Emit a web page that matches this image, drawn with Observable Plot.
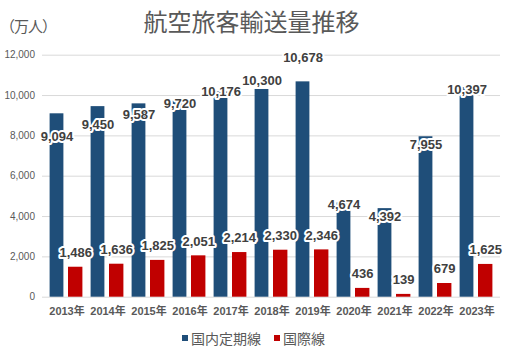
<!DOCTYPE html>
<html><head><meta charset="utf-8">
<script src="https://cdn.jsdelivr.net/npm/d3@7"></script>
<script src="https://cdn.jsdelivr.net/npm/@observablehq/plot@0.6"></script>
<style>
html,body{margin:0;padding:0;background:#fff;}
#wrap{position:relative;width:507px;height:360px;overflow:hidden;font-family:"Liberation Sans","Noto Sans CJK JP",sans-serif;}
#chart{position:absolute;left:0;top:0;}
#title{position:absolute;left:-2px;width:507px;top:9.4px;text-align:center;font-size:24px;line-height:24px;font-family:"Noto Sans CJK JP",sans-serif;color:#595959;white-space:nowrap;}
#unit{position:absolute;left:0;top:18px;font-size:15px;line-height:15px;letter-spacing:-1px;font-family:"Noto Sans CJK JP",sans-serif;color:#595959;white-space:nowrap;}
#legend{position:absolute;left:0;width:507px;top:329px;height:18px;display:flex;justify-content:center;align-items:center;font-size:14px;line-height:18px;font-family:"Noto Sans CJK JP",sans-serif;color:#595959;}
#legend .sw{display:inline-block;width:6px;height:6px;margin-right:3px;}
#legend .item{display:flex;align-items:center;}
#legend .item + .item{margin-left:13px;}
</style>
</head><body>
<div id="wrap">
  <div id="chart"></div>
  <div id="unit"></div>
  <div id="title"></div>
  <div id="legend"></div>
</div>
<script>
const titleText = "航空旅客輸送量推移";
const unitText = "（万人）";
const years = ["2013年","2014年","2015年","2016年","2017年","2018年","2019年","2020年","2021年","2022年","2023年"];
const domestic = [9094, 9450, 9587, 9720, 10176, 10300, 10678, 4674, 4392, 7955, 10397];
const international = [1486, 1636, 1825, 2051, 2214, 2330, 2346, 436, 139, 679, 1625];
const seriesNames = ["国内定期線", "国際線"];
const yTicks = [0, 2000, 4000, 6000, 8000, 10000, 12000];

// label placement (pixel offsets from bar top, as in the original)
const domLabelShift = [23.4, 18.6, 11.3, 2.6, 0.2, -9, -24, 1.6, 8, 7.7, 2.3];
const intlLabelShift = -14.4;

const colors = ["#1F4E79", "#C00000"];
const fmt = d3.format(",");

const rows = years.map((y, i) => ({year: y, dom: domestic[i], intl: international[i]}));

const labelStyle = {fontSize: 13, fontWeight: "bold", fill: "#404040", stroke: "white", strokeWidth: 4, strokeLinejoin: "round"};

const chart = Plot.plot({
  width: 507, height: 330,
  marginLeft: 42, marginRight: 7, marginTop: 54.7, marginBottom: 33.3,
  x: {type: "band", domain: years, padding: 0, axis: null},
  y: {domain: [0, 12000], axis: null},
  style: {fontFamily: '"Liberation Sans","Noto Sans CJK JP",sans-serif', background: "transparent", overflow: "visible"},
  marks: [
    Plot.ruleY(yTicks, {stroke: "#D9D9D9", strokeWidth: 1}),
    Plot.barY(rows, {x: "year", y: "dom", fill: colors[0], insetLeft: 3.6, insetRight: 23.6}),
    Plot.barY(rows, {x: "year", y: "intl", fill: colors[1], insetLeft: 22, insetRight: 4.6}),
    ...rows.map((r, i) => Plot.text([r], {x: "year", y: "dom", text: d => fmt(d.dom), dx: -10, dy: domLabelShift[i], ...labelStyle})),
    Plot.text(rows, {x: "year", y: "intl", text: d => fmt(d.intl), dx: 8.7, dy: intlLabelShift, ...labelStyle}),
    Plot.text(yTicks, {y: d => d, text: d => fmt(d), frameAnchor: "left", textAnchor: "end", dx: -7.5, fontSize: 10, fill: "#595959"}),
    Plot.text(years, {x: d => d, text: d => d, frameAnchor: "bottom", dy: 17.3, fontSize: 11, fontWeight: "bold", fill: "#595959"})
  ]
});
document.getElementById("chart").appendChild(chart);
document.getElementById("title").textContent = titleText;
document.getElementById("unit").textContent = unitText;
const legend = document.getElementById("legend");
seriesNames.forEach((n, i) => {
  const it = document.createElement("span");
  it.className = "item";
  const sw = document.createElement("span");
  sw.className = "sw";
  sw.style.background = colors[i];
  it.appendChild(sw);
  it.appendChild(document.createTextNode(n));
  legend.appendChild(it);
});
</script>
</body></html>
